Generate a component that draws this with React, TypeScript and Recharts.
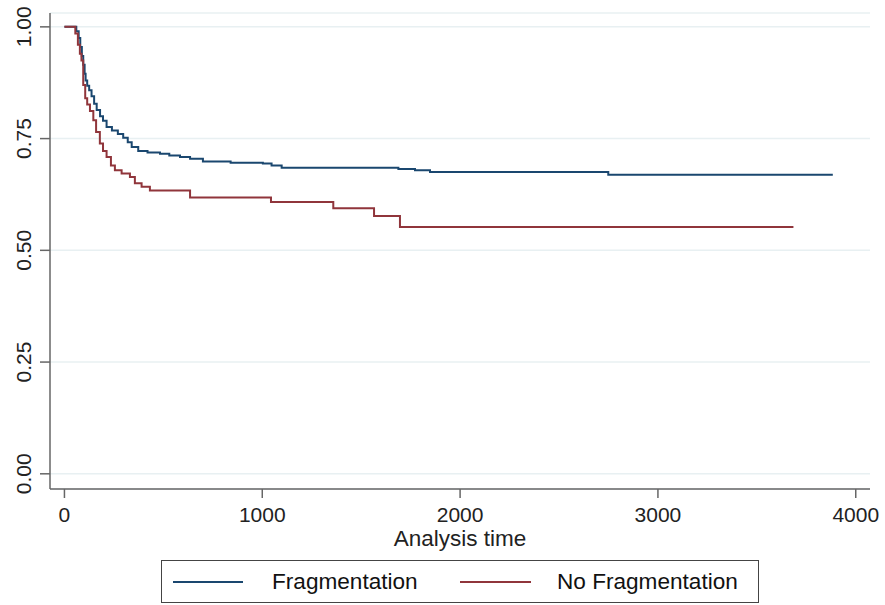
import { CartesianGrid, Label, Line, LineChart, XAxis, YAxis } from "recharts";

// Kaplan-Meier estimates
const fragTime = [0, 60, 72, 80, 88, 95, 102, 107, 115, 125, 137, 150, 163, 180, 195, 213, 240, 270, 297, 320, 340, 373, 420, 483, 530, 584, 635, 700, 840, 1003, 1047, 1098, 1688, 1772, 1848, 2749, 3884];
const fragSurv = [1.0, 0.99, 0.975, 0.955, 0.935, 0.915, 0.895, 0.88, 0.868, 0.858, 0.845, 0.828, 0.814, 0.8, 0.79, 0.776, 0.768, 0.76, 0.752, 0.742, 0.731, 0.722, 0.719, 0.716, 0.712, 0.709, 0.705, 0.699, 0.696, 0.694, 0.69, 0.685, 0.682, 0.679, 0.675, 0.669, 0.669];

const noFragTime = [0, 55, 68, 78, 86, 95, 105, 115, 129, 146, 160, 179, 195, 213, 235, 255, 289, 331, 356, 390, 432, 635, 1044, 1359, 1565, 1696, 3685];
const noFragSurv = [1.0, 0.985, 0.96, 0.94, 0.925, 0.87, 0.84, 0.826, 0.812, 0.791, 0.765, 0.739, 0.722, 0.709, 0.69, 0.679, 0.672, 0.664, 0.65, 0.642, 0.634, 0.618, 0.608, 0.594, 0.577, 0.552, 0.552];

const xTicks = [0, 1000, 2000, 3000, 4000];
const yTicks = [0, 0.25, 0.5, 0.75, 1];

const BLUE = "#1a476f";
const RED = "#90353b";

const fragData = fragTime.map((t, i) => ({ t, s: fragSurv[i] }));
const noFragData = noFragTime.map((t, i) => ({ t, s: noFragSurv[i] }));

function YTick({ x, y, payload }: any) {
  const tx = x - 7;
  return (
    <text
      x={tx}
      y={y}
      transform={`rotate(-90, ${tx}, ${y})`}
      textAnchor="middle"
      fontSize={21}
      fill="#222"
    >
      {Number(payload.value).toFixed(2)}
    </text>
  );
}

export default function App() {
  return (
    <div
      style={{
        position: "absolute",
        left: 0,
        top: 0,
        width: 885,
        height: 605,
        background: "#fff",
        fontFamily: "'Liberation Sans', Arial, sans-serif",
      }}
    >
      <LineChart width={885} height={605} margin={{ top: 13, right: 15, bottom: 56, left: 0 }}>
        <CartesianGrid vertical={false} stroke="#e8f0f2" strokeWidth={1.5} />
        <XAxis
          dataKey="t"
          type="number"
          domain={[-73, 4072]}
          ticks={xTicks}
          allowDataOverflow
          height={60}
          tickSize={9}
          tickMargin={9}
          stroke="#666"
          strokeWidth={1.5}
          tick={{ fontSize: 21, fill: "#222" }}
        >
          <Label value="Analysis time" position="insideBottom" offset={3} fontSize={22.5} fill="#222" />
        </XAxis>
        <YAxis
          type="number"
          domain={[-0.034, 1.031]}
          ticks={yTicks}
          allowDataOverflow
          width={50}
          tickSize={10}
          stroke="#666"
          strokeWidth={1.5}
          tick={<YTick />}
        />
        <Line
          data={fragData}
          dataKey="s"
          type="stepAfter"
          stroke={BLUE}
          strokeWidth={2}
          dot={false}
          isAnimationActive={false}
        />
        <Line
          data={noFragData}
          dataKey="s"
          type="stepAfter"
          stroke={RED}
          strokeWidth={2}
          dot={false}
          isAnimationActive={false}
        />
      </LineChart>
      <div
        style={{
          position: "absolute",
          left: 161,
          top: 560,
          width: 598,
          height: 43,
          boxSizing: "border-box",
          border: "1.5px solid #444",
          fontSize: 22.6,
          color: "#111",
        }}
      >
        <div style={{ position: "absolute", left: 11, top: 20, width: 70, height: 2, background: BLUE }} />
        <div style={{ position: "absolute", left: 110, top: 8, lineHeight: "26px" }}>Fragmentation</div>
        <div style={{ position: "absolute", left: 298, top: 20, width: 71, height: 2, background: RED }} />
        <div style={{ position: "absolute", left: 395, top: 8, lineHeight: "26px" }}>No Fragmentation</div>
      </div>
    </div>
  );
}
